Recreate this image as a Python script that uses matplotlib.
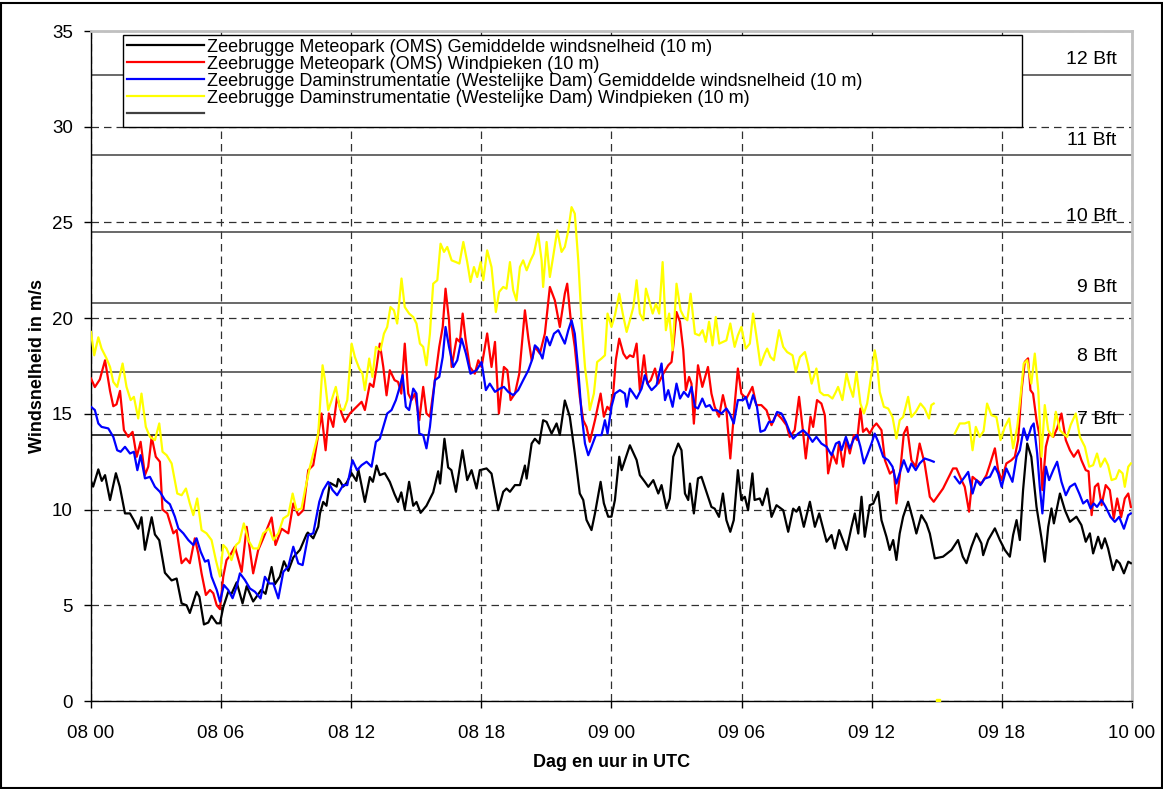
import matplotlib
matplotlib.use('Agg')
import matplotlib.pyplot as plt
import numpy as np
from matplotlib.lines import Line2D
from matplotlib.patches import Rectangle

plt.rcParams['font.family'] = ['Liberation Sans', 'DejaVu Sans']

# hours since 08 00 UTC, wind speed in m/s
oms_mean_h = [0.00, 0.10, 0.34, 0.50, 0.65, 0.88, 1.15, 1.33, 1.57, 1.80, 1.95, 2.18, 2.33, 2.49, 2.80, 2.95,
              3.15, 3.41, 3.72, 3.95, 4.18, 4.41, 4.56, 4.87, 5.00, 5.21, 5.41, 5.56, 5.80, 5.95, 6.10, 6.33,
              6.48, 6.72, 6.99, 7.18, 7.48, 7.85, 8.05, 8.33, 8.48, 8.71, 8.90, 9.10, 9.33, 9.48, 9.64, 9.94,
              10.00, 10.25, 10.48, 10.56, 10.71, 10.86, 11.02, 11.33, 11.40, 11.48, 11.63, 11.79, 12.02, 12.24,
              12.33, 12.63, 12.86, 13.00, 13.17, 13.32, 13.55, 13.78, 14.00, 14.16, 14.31, 14.47, 14.67, 14.86,
              15.01, 15.20, 15.47, 15.78, 16.01, 16.10, 16.30, 16.47, 16.62, 16.83, 17.13, 17.35, 17.55, 17.78,
              17.93, 18.24, 18.47, 18.78, 19.01, 19.16, 19.32, 19.55, 19.78, 20.01, 20.09, 20.32, 20.47, 20.67,
              20.85, 21.01, 21.24, 21.47, 21.62, 21.85, 22.08, 22.31, 22.54, 22.70, 22.85, 23.08, 23.24, 23.50,
              23.65, 23.85, 24.00, 24.16, 24.36, 24.47, 24.85, 25.16, 25.31, 25.54, 25.70, 25.93, 26.16, 26.31,
              26.54, 26.69, 26.85, 27.08, 27.23, 27.39, 27.54, 27.62, 27.80, 27.99, 28.15, 28.38, 28.61, 28.76,
              28.96, 29.14, 29.30, 29.48, 29.64, 29.83, 29.99, 30.15, 30.30, 30.50, 30.60, 30.84, 30.96, 31.18,
              31.38, 31.61, 31.92, 32.15, 32.38, 32.53, 32.66, 32.87, 33.15, 33.38, 33.58, 33.92, 34.15, 34.30,
              34.50, 34.84, 35.07, 35.22, 35.38, 35.53, 35.68, 35.91, 36.07, 36.30, 36.45, 36.68, 36.83, 36.99,
              37.14, 37.29, 37.45, 37.68, 37.91, 38.06, 38.29, 38.52, 38.68, 38.91, 39.29, 39.68, 39.98, 40.20,
              40.37, 40.60, 40.83, 41.06, 41.14, 41.37, 41.68, 41.91, 42.14, 42.37, 42.52, 42.68, 42.83, 42.98,
              43.17, 43.36, 43.60, 43.83, 43.98, 44.14, 44.29, 44.40, 44.68, 44.91, 45.14, 45.44, 45.67, 45.87,
              46.06, 46.21, 46.44, 46.60, 46.75, 46.90, 47.13, 47.29, 47.44, 47.63, 47.83, 47.95]
oms_mean_v = [11.5, 11.2, 12.1, 11.5, 11.8, 10.5, 11.9, 11.2, 9.8, 9.8, 9.5, 9.0, 9.6, 7.9, 9.6, 8.7,
              8.4, 6.7, 6.3, 6.4, 5.1, 5.0, 4.6, 5.7, 5.45, 4.0, 4.1, 4.45, 4.06, 4.06, 4.9, 5.7,
              5.6, 6.2, 5.1, 6.0, 5.2, 5.8, 5.6, 7.0, 6.1, 6.5, 7.3, 6.8, 7.5, 7.7, 7.9, 8.7,
              8.8, 8.5, 9.1, 9.8, 10.4, 10.2, 11.4, 11.2, 11.6, 11.5, 11.2, 11.4, 11.9, 11.5,
              12.1, 10.4, 11.7, 11.45, 12.3, 11.8, 11.9, 11.45, 10.8, 10.4, 10.9, 10.0, 11.45, 10.2,
              10.4, 9.83, 10.2, 10.9, 12.0, 11.36, 13.7, 12.2, 12.06, 10.93, 13.1, 11.54, 12.06, 11.1,
              12.06, 12.15, 11.88, 9.97, 10.93, 11.1, 10.93, 11.28, 11.28, 12.3, 11.62, 13.45, 13.7, 13.45,
              14.67, 14.58, 13.97, 14.5, 13.9, 15.7, 14.85, 12.94, 10.84, 10.5, 9.46, 8.93, 9.8, 11.45,
              10.33, 9.63, 9.63, 10.5, 12.76, 12.06, 13.36, 12.59, 11.8, 11.45, 11.19, 11.54, 10.84, 11.28,
              10.06, 10.58, 12.76, 13.45, 13.1, 10.84, 10.5, 11.36, 9.8, 11.63, 11.71, 10.93, 10.14, 10.05,
              9.62, 10.84, 9.45, 8.84, 9.45, 12.06, 10.5, 10.67, 9.97, 11.89, 10.5, 10.58, 10.23, 11.1,
              9.62, 10.23, 9.97, 8.84, 10.05, 9.89, 10.14, 9.1, 10.41, 9.1, 9.8, 8.32, 8.67, 7.97,
              8.93, 7.89, 9.1, 9.8, 8.75, 10.67, 8.58, 10.23, 10.31, 10.93, 9.45, 8.58, 7.89, 8.41,
              7.37, 8.75, 9.63, 10.41, 9.45, 8.75, 9.71, 9.28, 8.75, 7.45, 7.54, 7.89, 8.41, 7.54,
              7.2, 8.06, 8.75, 8.23, 7.62, 8.41, 9.02, 8.41, 7.89, 7.54, 8.67, 9.45, 8.41, 11.02,
              13.45, 12.76, 10.14, 8.5, 7.28, 9.1, 10.06, 9.28, 10.84, 9.97, 9.36, 9.63, 9.19, 8.32,
              8.76, 7.71, 8.58, 7.97, 8.5, 7.97, 6.84, 7.36, 7.19, 6.67, 7.28, 7.2]

oms_gust_h = [0.00, 0.18, 0.41, 0.65, 0.88, 1.03, 1.18, 1.34, 1.52, 1.72, 1.92, 2.11, 2.29, 2.49, 2.64, 2.80,
              2.99, 3.18, 3.30, 3.52, 3.80, 3.95, 4.18, 4.38, 4.56, 4.79, 4.95, 5.10, 5.30, 5.49, 5.64, 5.80,
              5.95, 6.10, 6.25, 6.41, 6.64, 6.95, 7.18, 7.48, 7.71, 7.94, 8.33, 8.51, 8.79, 9.10, 9.33, 9.56,
              9.79, 10.02, 10.25, 10.45, 10.63, 10.82, 10.97, 11.17, 11.35, 11.56, 11.71, 11.94, 12.25, 12.48,
              12.63, 12.86, 13.02, 13.17, 13.32, 13.48, 13.63, 13.78, 14.00, 14.16, 14.31, 14.47, 14.63, 14.78,
              14.94, 15.14, 15.32, 15.47, 15.63, 15.86, 16.06, 16.22, 16.35, 16.51, 16.63, 16.86, 17.01, 17.14,
              17.27, 17.47, 17.70, 17.86, 18.01, 18.27, 18.47, 18.63, 18.81, 19.04, 19.20, 19.35, 19.55, 19.75,
              20.01, 20.17, 20.32, 20.47, 20.70, 20.93, 21.16, 21.39, 21.62, 21.85, 21.96, 22.11, 22.31, 22.54,
              22.70, 22.85, 23.00, 23.24, 23.50, 23.65, 23.81, 23.93, 24.08, 24.20, 24.36, 24.55, 24.70, 24.85,
              25.01, 25.16, 25.31, 25.50, 25.65, 25.81, 26.01, 26.16, 26.39, 26.62, 26.77, 26.88, 27.00, 27.16,
              27.31, 27.43, 27.58, 27.69, 27.80, 27.99, 28.19, 28.45, 28.61, 28.76, 28.96, 29.14, 29.30, 29.48,
              29.68, 29.83, 29.99, 30.22, 30.50, 30.68, 30.91, 31.15, 31.38, 31.61, 31.84, 32.07, 32.22, 32.45,
              32.65, 32.81, 32.96, 33.18, 33.30, 33.48, 33.68, 33.84, 33.99, 34.19, 34.38, 34.50, 34.68, 34.84,
              34.99, 35.18, 35.33, 35.48, 35.60, 35.76, 35.91, 36.07, 36.22, 36.45, 36.61, 36.84, 37.02, 37.14,
              37.29, 37.48, 37.63, 37.83, 38.03, 38.21, 38.44, 38.68, 38.86, 39.29, 39.75, 39.91, 40.14, 40.29,
              40.49, 40.65, 40.83, 41.06, 41.29, 41.44, 41.68, 41.83, 41.99, 42.21, 42.44, 42.60, 42.75, 42.91,
              43.06, 43.21, 43.32, 43.44, 43.60, 43.75, 43.87, 44.03, 44.18, 44.37, 44.55, 44.75, 44.95, 45.14,
              45.32, 45.52, 45.67, 45.87, 46.00, 46.14, 46.29, 46.44, 46.60, 46.79, 46.98, 47.16, 47.32, 47.50,
              47.67, 47.83, 47.95]
oms_gust_v = [16.85, 16.4, 16.8, 17.8, 16.2, 15.4, 15.5, 16.2, 14.15, 13.8, 14.06, 12.76, 13.54, 11.8, 12.24, 13.8,
              12.76, 12.5, 10.0, 9.8, 8.76, 8.93, 7.2, 7.45, 7.2, 8.5, 7.7, 6.67, 5.54, 5.8, 5.63, 5.0,
              4.8, 6.5, 7.36, 7.6, 8.06, 6.75, 9.1, 6.67, 7.88, 8.49, 9.59, 8.15, 9.0, 8.76, 10.32, 9.71,
              9.97, 12.06, 12.32, 13.7, 15.02, 13.1, 15.02, 14.32, 15.9, 15.02, 14.58, 15.02, 15.37, 15.63,
              15.2, 16.58, 16.41, 17.45, 18.67, 17.45, 15.97, 17.28, 16.76, 16.67, 16.06, 18.67, 16.06, 15.72,
              16.06, 14.67, 16.41, 15.02, 14.85, 16.76, 18.5, 19.54, 21.54, 19.89, 17.45, 18.93, 18.76, 20.24,
              18.93, 17.45, 17.1, 17.8, 17.45, 19.2, 17.45, 18.76, 15.02, 17.45, 17.28, 15.72, 16.06, 17.1,
              20.41, 18.93, 17.8, 18.5, 18.15, 19.19, 21.63, 20.93, 19.54, 21.28, 21.8, 20.06, 18.5, 15.89,
              14.67, 14.32, 13.54, 14.67, 16.06, 14.85, 15.37, 15.2, 16.06, 17.8, 18.93, 18.15, 17.89, 18.06,
              17.97, 18.67, 16.24, 18.06, 16.58, 16.76, 17.37, 16.58, 17.1, 17.54, 17.71, 18.84, 20.32, 19.81,
              18.34, 16.24, 16.93, 16.58, 14.49, 17.54, 16.41, 17.45, 16.06, 15.37, 14.85, 15.98, 15.19, 12.67,
              15.46, 17.37, 16.06, 15.8, 16.41, 15.46, 15.46, 15.19, 14.41, 15.02, 14.76, 14.41, 13.8, 14.15,
              15.89, 14.32, 12.67, 14.85, 14.32, 15.72, 15.54, 14.93, 11.89, 12.93, 12.4, 13.54, 12.24, 13.63,
              12.93, 13.89, 13.63, 15.28, 14.06, 14.24, 13.97, 14.32, 14.5, 14.15, 12.58, 11.88, 12.06, 10.32,
              11.71, 13.97, 14.32, 12.58, 12.24, 13.45, 12.41, 10.67, 10.41, 11.1, 12.15, 12.15, 11.54, 11.19,
              9.89, 11.71, 11.54, 11.36, 11.8, 12.32, 13.2, 12.06, 11.54, 12.41, 12.58, 12.76, 13.63, 16.24,
              17.72, 17.9, 16.24, 16.06, 14.67, 13.8, 11.02, 13.28, 13.97, 13.8, 14.24, 15.02, 13.63, 13.1,
              12.76, 13.1, 12.58, 12.06, 12.0, 9.71, 11.19, 11.36, 10.23, 11.28, 11.02, 9.54, 10.58, 9.6,
              10.58, 10.84, 10.14]

dam_mean_h = [0.00, 0.18, 0.34, 0.49, 0.80, 1.03, 1.21, 1.37, 1.57, 1.80, 1.98, 2.14, 2.29, 2.49, 2.72, 2.95,
              3.18, 3.41, 3.64, 3.87, 4.03, 4.26, 4.49, 4.72, 4.87, 5.06, 5.26, 5.41, 5.56, 5.80, 5.95, 6.13,
              6.33, 6.53, 6.72, 6.87, 7.10, 7.33, 7.56, 7.82, 8.02, 8.22, 8.41, 8.64, 8.87, 9.10, 9.33, 9.56,
              9.76, 10.02, 10.25, 10.53, 10.71, 10.94, 11.14, 11.35, 11.63, 11.82, 12.06, 12.27, 12.48, 12.71,
              12.94, 13.14, 13.32, 13.48, 13.66, 13.86, 14.06, 14.24, 14.37, 14.52, 14.67, 14.86, 15.01, 15.14,
              15.32, 15.47, 15.63, 15.86, 16.06, 16.22, 16.35, 16.51, 16.71, 16.89, 17.09, 17.29, 17.50, 17.78,
              18.01, 18.21, 18.39, 18.63, 18.86, 19.04, 19.24, 19.47, 19.70, 19.93, 20.17, 20.36, 20.47, 20.62,
              20.82, 21.01, 21.16, 21.35, 21.55, 21.70, 21.85, 22.01, 22.16, 22.31, 22.47, 22.62, 22.78, 22.93,
              23.08, 23.28, 23.54, 23.70, 23.82, 24.00, 24.16, 24.39, 24.62, 24.70, 24.85, 25.01, 25.16, 25.39,
              25.54, 25.70, 25.85, 26.08, 26.31, 26.47, 26.62, 26.82, 27.00, 27.16, 27.34, 27.54, 27.69, 27.85,
              27.99, 28.19, 28.35, 28.53, 28.68, 28.87, 29.07, 29.30, 29.45, 29.64, 29.83, 30.07, 30.19, 30.35,
              30.53, 30.71, 30.87, 31.07, 31.26, 31.45, 31.64, 31.84, 32.04, 32.22, 32.38, 32.61, 32.84, 33.07,
              33.27, 33.45, 33.68, 33.92, 34.15, 34.35, 34.50, 34.61, 34.81, 34.99, 35.18, 35.33, 35.48, 35.64,
              35.79, 35.99, 36.14, 36.30, 36.53, 36.76, 36.96, 37.14, 37.33, 37.48, 37.68, 37.83, 38.03, 38.21,
              38.44, 38.68, 38.86, 39.00, 39.83, 40.06, 40.29, 40.45, 40.65, 40.83, 41.01, 41.21, 41.45, 41.68,
              41.83, 41.99, 42.21, 42.49, 42.68, 42.83, 43.01, 43.17, 43.36, 43.47, 43.63, 43.75, 43.87, 44.03,
              44.18, 44.37, 44.55, 44.75, 44.95, 45.14, 45.37, 45.57, 45.75, 45.94, 46.09, 46.24, 46.39, 46.60,
              46.79, 47.01, 47.21, 47.41, 47.63, 47.83, 47.95]
dam_mean_v = [15.37, 15.2, 14.5, 14.32, 14.24, 13.8, 13.1, 13.02, 13.28, 12.93, 13.02, 12.06, 12.84, 11.63, 11.71, 11.19,
              10.93, 10.5, 10.28, 9.63, 9.02, 8.76, 8.41, 8.15, 8.5, 7.8, 7.28, 7.36, 6.5, 5.8, 5.19, 6.06,
              5.8, 5.37, 5.98, 6.67, 6.32, 5.88, 5.71, 5.36, 6.49, 6.14, 6.14, 5.36, 6.75, 7.02, 8.06, 7.19,
              7.1, 8.67, 8.76, 10.41, 11.02, 11.45, 11.02, 10.75, 11.28, 11.28, 12.58, 12.06, 12.32, 12.5,
              12.24, 13.54, 13.7, 14.32, 15.02, 15.2, 15.72, 16.41, 17.02, 15.37, 15.2, 16.32, 16.06, 13.97,
              13.89, 13.2, 14.32, 16.76, 16.93, 17.97, 19.54, 18.5, 17.45, 17.8, 18.93, 18.15, 17.1, 17.28,
              17.71, 16.24, 16.58, 16.15, 16.32, 16.41, 16.15, 15.98, 16.24, 16.76, 17.28, 17.89, 18.58, 18.41,
              17.89, 19.02, 18.58, 19.19, 19.37, 19.02, 18.67, 19.37, 19.89, 19.19, 17.28, 15.02, 13.45, 12.84,
              13.28, 13.89, 13.89, 14.67, 13.97, 15.37, 16.06, 16.24, 16.06, 15.37, 16.32, 16.06, 15.8, 16.32,
              17.02, 16.5, 16.24, 16.5, 17.63, 15.72, 16.24, 15.37, 16.58, 15.8, 16.15, 15.89, 16.41, 15.37,
              15.28, 15.8, 15.37, 15.46, 15.19, 15.19, 15.02, 15.28, 15.02, 14.5, 15.72, 15.72, 15.89, 15.28,
              15.98, 15.37, 14.06, 14.15, 14.58, 14.58, 15.1, 15.02, 14.58, 14.06, 13.71, 13.97, 14.15, 13.89,
              13.54, 13.8, 13.45, 13.28, 12.84, 13.45, 13.54, 13.1, 13.8, 13.19, 13.71, 13.89, 13.28, 12.41,
              12.84, 13.45, 13.97, 13.54, 12.76, 12.58, 12.24, 11.36, 12.06, 12.58, 11.97, 12.41, 12.06, 12.41,
              12.67, 12.58, 12.5, np.nan, 11.71, 11.36, 11.71, 11.97, 10.84, 11.54, 11.28, 11.62, 11.71, 12.24,
              11.89, 11.19, 12.15, 11.45, 12.76, 13.1, 14.24, 13.63, 14.32, 14.5, 12.93, 11.19, 9.8, 12.24,
              11.54, 12.06, 12.5, 11.45, 10.75, 11.19, 11.36, 10.84, 10.32, 10.5, 10.06, 10.32, 10.14, 10.5,
              10.14, 9.62, 9.36, 9.62, 9.0, 9.71, 9.8]

dam_gust_h = [0.00, 0.15, 0.34, 0.49, 0.72, 0.88, 1.03, 1.21, 1.46, 1.64, 1.83, 1.98, 2.18, 2.33, 2.53, 2.72,
              2.95, 3.15, 3.30, 3.49, 3.72, 3.98, 4.18, 4.38, 4.56, 4.72, 4.90, 5.10, 5.33, 5.56, 5.76, 5.95,
              6.10, 6.25, 6.48, 6.69, 6.84, 7.05, 7.25, 7.48, 7.71, 7.94, 8.22, 8.41, 8.64, 8.87, 9.10, 9.30,
              9.48, 9.71, 9.87, 10.10, 10.33, 10.48, 10.68, 10.79, 10.94, 11.10, 11.29, 11.48, 11.66, 11.82,
              12.02, 12.17, 12.37, 12.52, 12.63, 12.83, 12.98, 13.14, 13.35, 13.51, 13.66, 13.81, 13.97, 14.12,
              14.32, 14.47, 14.67, 14.86, 15.01, 15.17, 15.32, 15.47, 15.63, 15.78, 15.97, 16.12, 16.28, 16.43,
              16.63, 16.83, 16.99, 17.17, 17.35, 17.50, 17.66, 17.81, 17.97, 18.09, 18.27, 18.47, 18.67, 18.82,
              19.01, 19.16, 19.32, 19.47, 19.62, 19.78, 19.93, 20.09, 20.27, 20.42, 20.62, 20.78, 20.85, 21.01,
              21.16, 21.31, 21.50, 21.70, 21.85, 22.01, 22.16, 22.31, 22.47, 22.62, 22.78, 22.93, 23.00, 23.19,
              23.34, 23.54, 23.70, 23.82, 24.00, 24.16, 24.36, 24.52, 24.70, 24.85, 25.01, 25.16, 25.31, 25.47,
              25.59, 25.74, 25.90, 26.05, 26.20, 26.36, 26.51, 26.66, 26.82, 27.00, 27.19, 27.34, 27.50, 27.65,
              27.85, 28.05, 28.20, 28.35, 28.50, 28.66, 28.81, 28.97, 29.15, 29.30, 29.48, 29.68, 29.83, 29.99,
              30.19, 30.38, 30.53, 30.68, 30.87, 31.07, 31.18, 31.33, 31.49, 31.73, 31.92, 32.10, 32.35, 32.50,
              32.69, 32.92, 33.07, 33.23, 33.45, 33.61, 33.79, 33.99, 34.19, 34.35, 34.45, 34.65, 34.84, 34.99,
              35.14, 35.30, 35.48, 35.64, 35.79, 35.99, 36.14, 36.25, 36.37, 36.56, 36.76, 36.96, 37.14, 37.29,
              37.45, 37.68, 37.83, 38.03, 38.25, 38.44, 38.64, 38.75, 38.86, 38.95, 39.05, 39.15, 39.83, 40.06,
              40.29, 40.49, 40.65, 40.80, 40.98, 41.16, 41.32, 41.52, 41.75, 41.94, 42.14, 42.34, 42.52, 42.71,
              42.86, 43.01, 43.17, 43.36, 43.52, 43.68, 43.83, 43.98, 44.14, 44.34, 44.49, 44.68, 44.83, 45.01,
              45.17, 45.41, 45.60, 45.83, 46.03, 46.21, 46.39, 46.55, 46.75, 46.90, 47.06, 47.26, 47.41, 47.57,
              47.67, 47.83, 47.95]
dam_gust_v = [19.28, 18.06, 19.0, 18.41, 17.89, 17.45, 16.67, 16.41, 17.63, 16.41, 15.72, 15.89, 14.76, 16.06, 14.32, 13.8,
              13.63, 14.5, 13.02, 12.84, 12.41, 10.84, 10.75, 11.1, 10.32, 9.71, 10.58, 8.93, 8.76, 8.41, 7.36, 6.5,
              8.15, 7.97, 7.36, 8.15, 8.3, 9.28, 8.41, 7.97, 7.97, 8.76, 9.02, 8.41, 8.76, 9.54, 9.71, 10.84,
              9.97, 10.06, 11.02, 12.24, 13.28, 13.97, 17.54, 16.76, 15.19, 15.72, 16.41, 15.28, 15.19, 15.72,
              18.67, 17.97, 17.37, 17.1, 16.24, 17.89, 16.93, 18.5, 18.32, 19.19, 19.54, 20.58, 20.41, 19.72,
              22.07, 20.58, 20.24, 20.06, 19.72, 18.67, 18.5, 17.54, 19.19, 21.8, 21.98, 23.89, 23.46, 23.72,
              23.02, 22.93, 22.85, 23.98, 22.93, 21.89, 22.67, 22.15, 22.93, 21.98, 23.54, 22.67, 20.32, 21.37,
              21.63, 21.54, 22.93, 21.46, 20.93, 22.67, 23.02, 22.5, 23.02, 23.37, 24.41, 23.02, 21.63, 23.98,
              22.15, 23.2, 24.58, 23.46, 23.72, 24.58, 25.8, 25.46, 23.02, 19.89, 17.45, 16.06, 15.2, 16.06,
              17.71, 17.89, 18.06, 20.24, 19.54, 20.15, 21.28, 20.24, 19.28, 19.89, 20.58, 21.98, 20.24, 19.89,
              21.54, 20.93, 20.24, 20.76, 20.24, 22.93, 19.37, 20.24, 18.32, 21.8, 20.41, 20.06, 19.89, 21.28,
              19.19, 19.1, 19.37, 18.76, 19.81, 18.58, 20.06, 18.67, 18.76, 18.84, 19.72, 18.5, 19.1, 19.54,
              18.41, 18.67, 20.24, 19.1, 17.54, 18.15, 18.41, 17.97, 17.8, 19.37, 18.5, 18.23, 18.06, 17.19,
              17.97, 18.23, 17.54, 16.58, 17.37, 16.15, 15.98, 15.98, 15.8, 16.15, 16.41, 15.72, 17.1, 16.41,
              15.89, 17.19, 15.54, 15.02, 15.54, 17.1, 18.32, 17.63, 16.15, 15.37, 15.28, 14.84, 13.71, 14.67,
              14.84, 15.89, 14.84, 15.1, 15.54, 15.28, 14.76, 15.46, 15.54, np.nan, 0.0, np.nan, 13.97, 14.5,
              14.5, 14.58, 13.1, 14.32, 13.8, 14.1, 15.54, 14.93, 14.84, 13.63, 14.32, 14.76, 13.2, 14.32,
              15.89, 17.63, 17.8, 16.58, 18.15, 16.24, 12.76, 15.46, 14.15, 13.8, 15.11, 14.15, 13.97, 13.8,
              14.41, 15.02, 13.8, 13.28, 12.24, 12.32, 12.93, 12.24, 12.67, 12.32, 11.54, 11.62, 12.06, 11.89,
              11.19, 12.24, 12.41]

series_labels = ['Zeebrugge Meteopark (OMS) Gemiddelde windsnelheid (10 m)',
                 'Zeebrugge Meteopark (OMS) Windpieken (10 m)',
                 'Zeebrugge Daminstrumentatie (Westelijke Dam) Gemiddelde windsnelheid (10 m)',
                 'Zeebrugge Daminstrumentatie (Westelijke Dam) Windpieken (10 m)']
series_colors = ['#000000', '#ff0000', '#0000ff', '#ffff00']

bft_levels = [13.9, 17.2, 20.8, 24.5, 28.5, 32.7]
bft_labels = ['7 Bft', '8 Bft', '9 Bft', '10 Bft', '11 Bft', '12 Bft']

x_ticks = [0, 6, 12, 18, 24, 30, 36, 42, 48]
x_tick_labels = ['08 00', '08 06', '08 12', '08 18', '09 00', '09 06', '09 12', '09 18', '10 00']
y_ticks = [0, 5, 10, 15, 20, 25, 30, 35]

grid_color = '#303030'
frame_color = '#c0c0c0'
data_line_width = 1.6


def draw(savefile):
    fig = plt.figure(figsize=(11.63, 7.89), dpi=100)
    ax = fig.add_axes([0.0782, 0.1115, 0.8951, 0.8492])

    # beaufort limits
    for level, label in zip(bft_levels, bft_labels):
        ax.axhline(level, color='#404040' if level > 14 else 'black', linewidth=1.1, zorder=1)
        ax.text(47.3, level + 0.35, label, ha='right', va='bottom', fontsize=14, zorder=2)

    series = [(oms_mean_h, oms_mean_v), (oms_gust_h, oms_gust_v),
              (dam_mean_h, dam_mean_v), (dam_gust_h, dam_gust_v)]
    handles = []
    for (h, v), color, label in zip(series, series_colors, series_labels):
        h = np.array(h)
        v = np.array(v, dtype=float)
        line, = ax.plot(h, v, color=color, linewidth=data_line_width, zorder=3, label=label)
        handles.append(line)
        # single points surrounded by gaps
        ok = np.isfinite(v)
        prev_ok = np.r_[False, ok[:-1]]
        next_ok = np.r_[ok[1:], False]
        lone = ok & ~prev_ok & ~next_ok
        if lone.any():
            ax.plot(h[lone], v[lone], 's', color=color, markersize=2.5, zorder=3)

    ax.set_xlim(0, 48)
    ax.set_ylim(0, 35)
    ax.set_xticks(x_ticks)
    ax.set_xticklabels(x_tick_labels)
    ax.set_yticks(y_ticks)
    ax.tick_params(axis='x', direction='out', length=5, width=1, pad=12, labelsize=13.5)
    ax.tick_params(axis='y', direction='out', length=5, width=1, pad=8, labelsize=13.5)

    ax.grid(True, color=grid_color, linestyle=(0, (6, 4)), linewidth=0.9, zorder=0)
    ax.set_axisbelow(True)

    ax.spines['top'].set_color(frame_color)
    ax.spines['right'].set_color(frame_color)
    ax.spines['top'].set_linewidth(2)
    ax.spines['right'].set_linewidth(2)
    ax.spines['left'].set_linewidth(1)
    ax.spines['bottom'].set_linewidth(1)

    fig.text(0.5258, 0.033, 'Dag en uur in UTC', ha='center', va='center',
             fontsize=13, fontweight='bold')
    fig.text(0.032, 0.536, 'Windsnelheid in m/s', ha='center', va='center',
             rotation=90, fontsize=13, fontweight='bold')

    extra = Line2D([], [], color='#404040', linewidth=1.6)
    leg = fig.legend(handles + [extra], series_labels + [' '],
                     loc='upper left', bbox_to_anchor=(0.1058, 0.8416, 0.773, 0.1140),
                     bbox_transform=fig.transFigure, mode='expand', borderaxespad=0,
                     fontsize=13, handlelength=4.3, handletextpad=0.15,
                     labelspacing=0.0, borderpad=0.2, fancybox=False,
                     framealpha=1, edgecolor='black')
    leg.get_frame().set_linewidth(1)
    leg.set_zorder(5)

    fig.add_artist(Rectangle((0.0008, 0.0012), 0.9984, 0.9955, transform=fig.transFigure,
                             fill=False, edgecolor='black', linewidth=1.5))

    fig.savefig(savefile, dpi=100)


draw('out.png')
